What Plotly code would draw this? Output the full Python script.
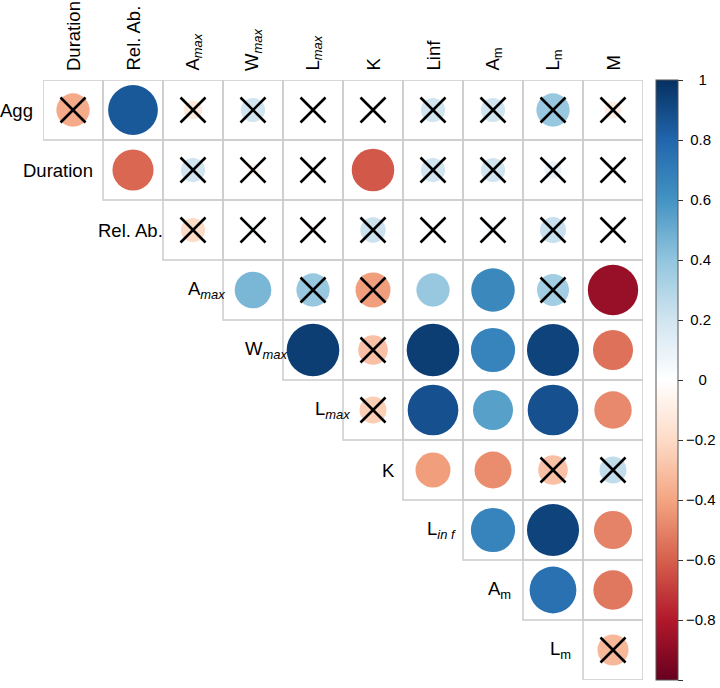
import plotly.graph_objects as go
import numpy as np

# Variables (rows use the first 10, columns use the last 10)
var_names = ["Agg", "Duration", "Rel. Ab.", "Amax", "Wmax", "Lmax", "K", "Linf", "Am", "Lm", "M"]
row_labels = ["Agg", "Duration", "Rel. Ab.", "A<sub><i>max</i></sub>", "W<sub><i>max</i></sub>",
              "L<sub><i>max</i></sub>", "K", "L<sub><i>in f</i></sub>", "A<sub>m</sub>", "L<sub>m</sub>"]
col_labels = ["Duration", "Rel. Ab.", "A<sub><i>max</i></sub>", "W<sub><i>max</i></sub>",
              "L<sub><i>max</i></sub>", "K", "Linf", "A<sub>m</sub>", "L<sub>m</sub>", "M"]

# Upper-triangle correlations, one list per row (columns start right after the row variable)
r_agg = [-0.38, 0.85, -0.12, 0.20, 0.02, 0.02, 0.20, 0.20, 0.38, -0.10]
r_duration = [-0.58, 0.20, -0.05, 0.02, -0.62, 0.20, 0.20, 0.10, -0.02]
r_relab = [-0.20, 0.05, -0.03, 0.22, 0.02, 0.05, 0.23, 0.01]
r_amax = [0.46, 0.38, -0.42, 0.38, 0.65, 0.35, -0.87]
r_wmax = [0.95, -0.30, 0.95, 0.67, 0.93, -0.55]
r_lmax = [-0.25, 0.88, 0.55, 0.88, -0.48]
r_k = [-0.42, -0.47, -0.30, 0.25]
r_linf = [0.67, 0.93, -0.50]
r_am = [0.75, -0.53]
r_lm = [-0.33]

# Non-significant flags (1 = crossed out)
ns_agg = [1, 0, 1, 1, 1, 1, 1, 1, 1, 1]
ns_duration = [0, 1, 1, 1, 0, 1, 1, 1, 1]
ns_relab = [1, 1, 1, 1, 1, 1, 1, 1]
ns_amax = [0, 1, 1, 0, 0, 1, 0]
ns_wmax = [0, 1, 0, 0, 0, 0]
ns_lmax = [1, 0, 0, 0, 0]
ns_k = [0, 0, 1, 1]
ns_linf = [0, 0, 0]
ns_am = [0, 0]
ns_lm = [1]

rows_r = [r_agg, r_duration, r_relab, r_amax, r_wmax, r_lmax, r_k, r_linf, r_am, r_lm]
rows_ns = [ns_agg, ns_duration, ns_relab, ns_amax, ns_wmax, ns_lmax, ns_k, ns_linf, ns_am, ns_lm]

# Colour bar ticks
cbar_vals = [-1, -0.8, -0.6, -0.4, -0.2, 0, 0.2, 0.4, 0.6, 0.8, 1]
NB = "\u00a0"
cbar_text = [NB * 2 + "\u22121", "\u22120.8", "\u22120.6", "\u22120.4", "\u22120.2",
             NB * 3 + "0", NB + "0.2", NB + "0.4", NB + "0.6", NB + "0.8", NB * 3 + "1"]

# Colour palette (corrplot RdBu)
rdbu = ["#67001F", "#B2182B", "#D6604D", "#F4A582", "#FDDBC7", "#FFFFFF",
        "#D1E5F0", "#92C5DE", "#4393C3", "#2166AC", "#053061"]
colorscale = [[i / (len(rdbu) - 1), c] for i, c in enumerate(rdbu)]

cx, cy, cv, cs = [], [], [], []
xx, xy = [], []
for i, (vals, flags) in enumerate(zip(rows_r, rows_ns)):
    for k, (v, f) in enumerate(zip(vals, flags)):
        j = i + k
        cx.append(j + 0.5)
        cy.append(i + 0.5)
        cv.append(v)
        cs.append(54 * np.sqrt(abs(v)))
        if f:
            xx.append(j + 0.5)
            xy.append(i + 0.5)

FONT = "Liberation Sans, Arial, sans-serif"

fig = go.Figure()
fig.add_trace(go.Scatter(
    x=cx, y=cy, mode="markers", hoverinfo="skip",
    marker=dict(size=cs, color=cv, colorscale=colorscale, cmin=-1, cmax=1,
                line=dict(width=0), opacity=1,
                colorbar=dict(x=1.0217, xanchor="left", y=0.5, yanchor="middle",
                              len=1, lenmode="fraction", ypad=0, xpad=0,
                              thickness=22, outlinewidth=1, outlinecolor="#555555",
                              ticks="outside", ticklen=5, tickcolor="#333333",
                              tickvals=cbar_vals, ticktext=cbar_text,
                              tickfont=dict(family=FONT, size=15, color="black"))),
    showlegend=False))
fig.add_trace(go.Scatter(
    x=xx, y=xy, mode="markers", hoverinfo="skip",
    marker=dict(symbol="x-thin-open", size=25, line=dict(width=2.6, color="black"), color="black"),
    showlegend=False))

shapes = []
for i in range(10):
    for j in range(i, 10):
        shapes.append(dict(type="rect", xref="x", yref="y", x0=j, x1=j + 1, y0=i, y1=i + 1,
                           line=dict(color="#CCCCCC", width=1.5), layer="below"))

annotations = []
for j, lab in enumerate(col_labels):
    annotations.append(dict(x=j + 0.5, y=1, xref="x", yref="paper", text=lab, showarrow=False,
                            textangle=-90, xanchor="center", yanchor="bottom", yshift=7,
                            font=dict(family=FONT, size=18.5, color="black")))
label_shift = [-8, -8, 2, 4, 6, 9, -6, -5, -10, -10]
for i, lab in enumerate(row_labels):
    annotations.append(dict(x=i, y=i + 0.5, xref="x", yref="y", text=lab, showarrow=False,
                            xanchor="right", yanchor="middle", xshift=label_shift[i],
                            font=dict(family=FONT, size=18.5, color="black")))

fig.update_layout(
    width=720, height=688,
    margin=dict(l=43, r=77, t=80, b=8, autoexpand=False),
    paper_bgcolor="white", plot_bgcolor="white",
    xaxis=dict(range=[0, 10], visible=False, fixedrange=True),
    yaxis=dict(range=[10, 0], visible=False, fixedrange=True),
    shapes=shapes, annotations=annotations,
)
fig.write_html("out.html", config={"displayModeBar": False},
               post_script="document.body.style.margin='0';document.body.style.overflow='hidden';")
